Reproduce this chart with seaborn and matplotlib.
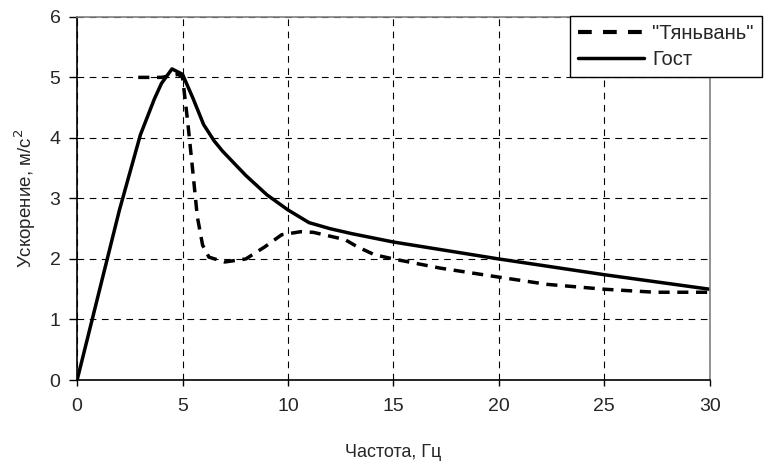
import pandas as pd
import matplotlib
matplotlib.use("Agg")
import matplotlib.pyplot as plt
import seaborn as sns
from matplotlib.lines import Line2D

# Values
tian_x = [2.9, 4.0, 4.8, 5.0, 5.25, 5.5, 5.7, 5.95, 6.25, 7.0, 8.0, 8.9, 9.7,
          10.6, 11.2, 12.7, 13.3, 14.1, 15.0, 17.2, 20.0, 22.3, 25.0, 27.4, 30.0]
tian_y = [5.0, 5.0, 5.05, 5.0, 4.25, 3.4, 2.7, 2.23, 2.03, 1.95, 2.0, 2.2, 2.4,
          2.45, 2.44, 2.32, 2.2, 2.07, 2.0, 1.85, 1.7, 1.58, 1.5, 1.45, 1.45]

gost_x = [0, 1, 2, 3, 3.66, 4.0, 4.5, 5.0, 5.5, 6.0, 6.5, 6.9, 8.0, 9.0,
          10.0, 11.0, 12.0, 13.0, 15.0, 20.0, 25.0, 30.0]
gost_y = [0, 1.4, 2.8, 4.05, 4.64, 4.9, 5.14, 5.05, 4.65, 4.22, 3.95, 3.78, 3.38, 3.06,
          2.81, 2.6, 2.5, 2.42, 2.28, 2.0, 1.74, 1.5]

series_names = ['"Тяньвань"', 'Гост']

df = pd.concat([
    pd.DataFrame({'x': tian_x, 'y': tian_y, 'series': series_names[0]}),
    pd.DataFrame({'x': gost_x, 'y': gost_y, 'series': series_names[1]}),
])

sns.set_style("white")
plt.rcParams['font.family'] = ['Liberation Sans', 'DejaVu Sans']

fig = plt.figure(figsize=(7.79, 4.68), dpi=100)
ax = fig.add_axes([0.099, 0.188, 0.812, 0.776])

sns.lineplot(data=df, x='x', y='y', hue='series', style='series',
             palette=['black', 'black'], dashes=[(3.2, 2.2), ''],
             linewidth=2.5, sort=False, ax=ax, legend=False)

ax.set_xlim(0, 30)
ax.set_ylim(0, 6)
ax.set_xticks(range(0, 31, 5))
ax.set_yticks(range(0, 7))
ax.grid(True, color='black', linestyle=(0, (6, 5)), linewidth=0.8)
ax.tick_params(axis='y', direction='out', length=6, width=1, labelsize=14,
               left=True, color='black', pad=6)
ax.tick_params(axis='x', direction='out', length=4, width=1, labelsize=14,
               bottom=True, color='black', pad=9)

for side in ['left', 'bottom']:
    ax.spines[side].set_color('black')
    ax.spines[side].set_linewidth(1.2)
for side in ['top', 'right']:
    ax.spines[side].set_color('#808080')
    ax.spines[side].set_linewidth(1.2)

ax.set_xlabel("Частота, Гц", fontsize=13, labelpad=21)
ax.set_ylabel("Ускорение, м/с$^2$", fontsize=13.5, labelpad=8)

handles = [Line2D([], [], color='black', linewidth=3, linestyle=(0, (3.3, 2.7))),
           Line2D([], [], color='black', linewidth=2.5)]
leg = fig.legend(handles, series_names, loc='upper right',
                 bbox_to_anchor=(762 / 779, 1 - 16 / 468), bbox_transform=fig.transFigure,
                 fontsize=14.5, frameon=True, fancybox=False, framealpha=1,
                 edgecolor='black', borderpad=0.4, handlelength=3.3,
                 handletextpad=0.4, labelspacing=0.35, borderaxespad=0)
leg.get_frame().set_linewidth(1.0)

fig.savefig("out.png", dpi=100)
